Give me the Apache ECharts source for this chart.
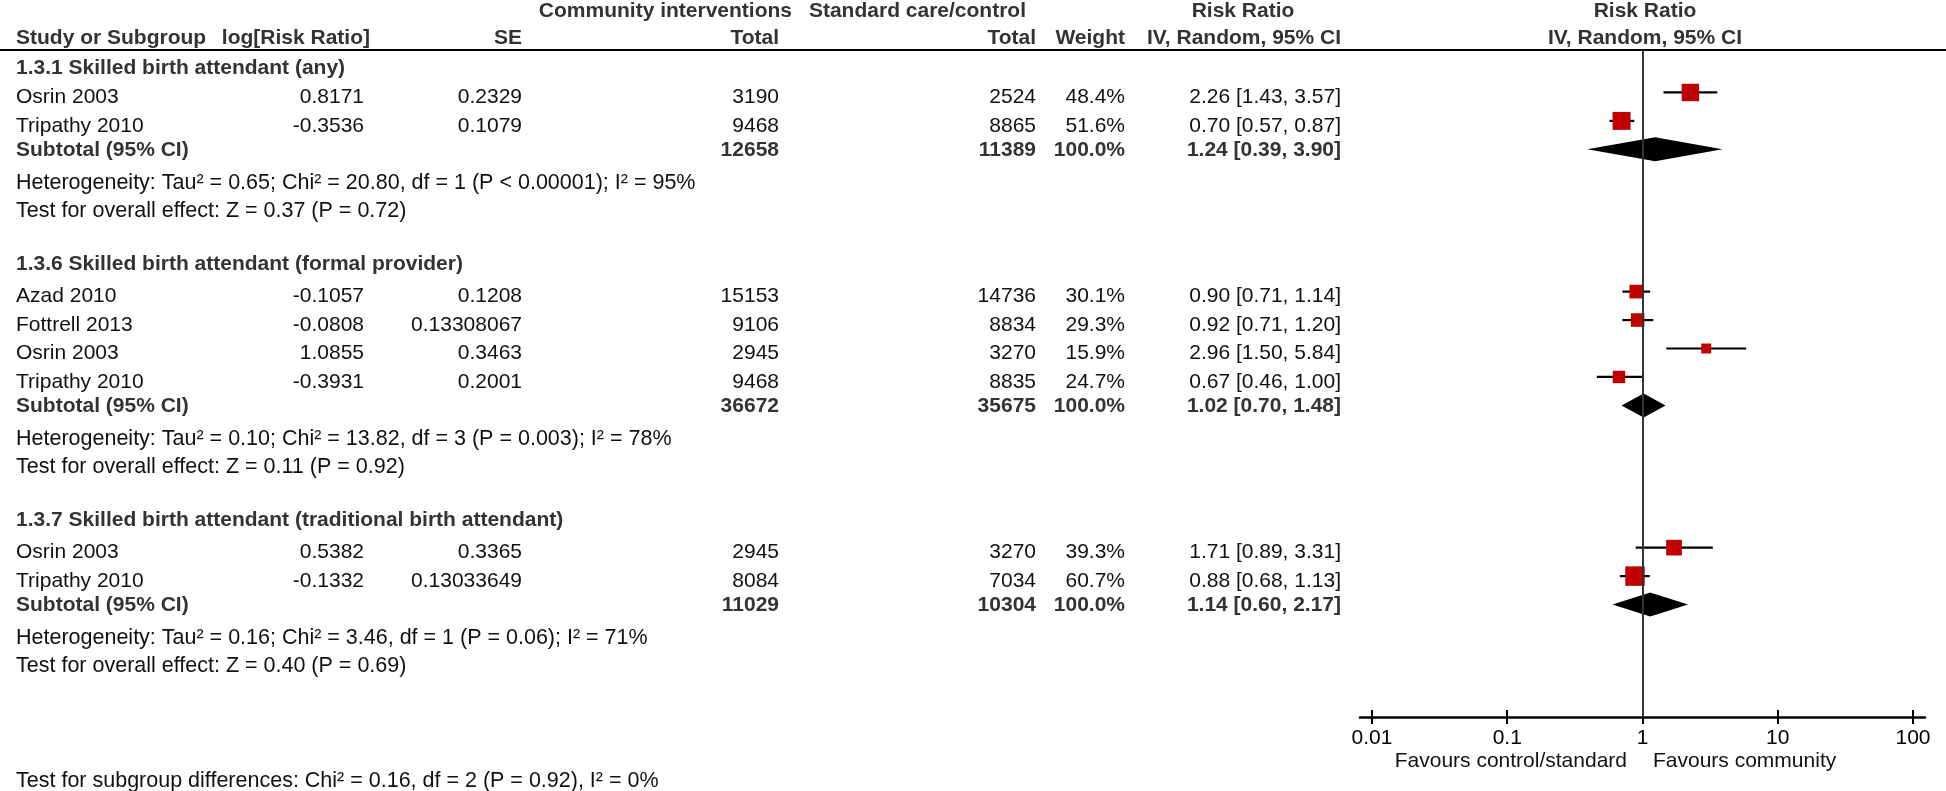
<!DOCTYPE html>
<html><head><meta charset="utf-8">
<script src="https://cdn.jsdelivr.net/npm/echarts@6/dist/echarts.min.js"></script>
<style>html,body{margin:0;padding:0;background:#fff}#chart{width:1946px;height:791px}</style>
</head><body><div id="chart"></div>
<script>
// ---------------- data ----------------
const groupTitles = ['1.3.1 Skilled birth attendant (any)', '1.3.6 Skilled birth attendant (formal provider)', '1.3.7 Skilled birth attendant (traditional birth attendant)'];
const studyGroup = [0, 0, 1, 1, 1, 1, 2, 2];
const studyNames = ['Osrin 2003', 'Tripathy 2010', 'Azad 2010', 'Fottrell 2013', 'Osrin 2003', 'Tripathy 2010', 'Osrin 2003', 'Tripathy 2010'];
const logRiskRatio = ['0.8171', '-0.3536', '-0.1057', '-0.0808', '1.0855', '-0.3931', '0.5382', '-0.1332'];
const standardError = ['0.2329', '0.1079', '0.1208', '0.13308067', '0.3463', '0.2001', '0.3365', '0.13033649'];
const communityTotal = [3190, 9468, 15153, 9106, 2945, 9468, 2945, 8084];
const controlTotal = [2524, 8865, 14736, 8834, 3270, 8835, 3270, 7034];
const weightPct = [48.4, 51.6, 30.1, 29.3, 15.9, 24.7, 39.3, 60.7];
const riskRatio = [2.26, 0.70, 0.90, 0.92, 2.96, 0.67, 1.71, 0.88];
const ciLow = [1.43, 0.57, 0.71, 0.71, 1.50, 0.46, 0.89, 0.68];
const ciHigh = [3.57, 0.87, 1.14, 1.20, 5.84, 1.00, 3.31, 1.13];

const subCommunityTotal = [12658, 36672, 11029];
const subControlTotal = [11389, 35675, 10304];
const subRiskRatio = [1.24, 1.02, 1.14];
const subCiLow = [0.39, 0.70, 0.60];
const subCiHigh = [3.90, 1.48, 2.17];
const heterogeneityText = [
  'Heterogeneity: Tau\u00B2 = 0.65; Chi\u00B2 = 20.80, df = 1 (P < 0.00001); I\u00B2 = 95%',
  'Heterogeneity: Tau\u00B2 = 0.10; Chi\u00B2 = 13.82, df = 3 (P = 0.003); I\u00B2 = 78%',
  'Heterogeneity: Tau\u00B2 = 0.16; Chi\u00B2 = 3.46, df = 1 (P = 0.06); I\u00B2 = 71%'
];
const overallEffectText = [
  'Test for overall effect: Z = 0.37 (P = 0.72)',
  'Test for overall effect: Z = 0.11 (P = 0.92)',
  'Test for overall effect: Z = 0.40 (P = 0.69)'
];
const subgroupDiffText = 'Test for subgroup differences: Chi\u00B2 = 0.16, df = 2 (P = 0.92), I\u00B2 = 0%';
const tickValues = [0.01, 0.1, 1, 10, 100];
const tickLabels = ['0.01', '0.1', '1', '10', '100'];
const favoursLeft = 'Favours control/standard';
const favoursRight = 'Favours community';

// ---------------- layout ----------------
const W = 1946, H = 791;
const ROW0 = 64, ROWH = 28.45;
const GRID_TOP = 50, GRID_BOTTOM = 717;
const yMin = (GRID_TOP - ROW0) / ROWH, yMax = (GRID_BOTTOM - ROW0) / ROWH;
const kOf = px => (px - ROW0) / ROWH;
const PLOT_L = 1360, PLOT_R = 1925;
const XM = 2.0887;
const FONT = '"Liberation Sans", Arial, Helvetica, sans-serif';
const FS = 21, FS_NOTE = 21.5;
const COL = { name: 16, logrr: 364, se: 522, ctot: 779, stot: 1036, wt: 1125, ci: 1341 };
const CLR_N = '#111', CLR_B = '#333';
// vertical text offsets (px) relative to the row centre used by the marks
const DY = { study: 5, sub: 1, head0: 4, head: 1, note: 5 };

const fmt2 = v => v.toFixed(2);
const ciStr = (r, l, h) => fmt2(r) + ' [' + fmt2(l) + ', ' + fmt2(h) + ']';

const texts = [];
function T(x, k, text, align, bold, dy, fs) { texts.push({ x, k, text, align, bold, dy: dy || 0, fs: fs || FS, color: bold ? CLR_B : CLR_N }); }

// headers
const h1 = kOf(11), h2 = kOf(38.5);
T(792, h1, 'Community interventions', 'right', true);
T(1026, h1, 'Standard care/control', 'right', true);
T(1243, h1, 'Risk Ratio', 'center', true);
T(1645, h1, 'Risk Ratio', 'center', true);
T(COL.name, h2, 'Study or Subgroup', 'left', true);
T(370, h2, 'log[Risk Ratio]', 'right', true);
T(COL.se, h2, 'SE', 'right', true);
T(COL.ctot, h2, 'Total', 'right', true);
T(COL.stot, h2, 'Total', 'right', true);
T(COL.wt, h2, 'Weight', 'right', true);
T(COL.ci, h2, 'IV, Random, 95% CI', 'right', true);
T(1645, h2, 'IV, Random, 95% CI', 'center', true);

const studyK = [], subK = [];
let base = 0;
for (let g = 0; g < groupTitles.length; g++) {
  T(COL.name, base, groupTitles[g], 'left', true, g === 0 ? DY.head0 : DY.head);
  let j = 0;
  studyNames.forEach((nm, i) => {
    if (studyGroup[i] !== g) return;
    j++;
    const k = base + j;
    studyK[i] = k;
    T(COL.name, k, nm, 'left', false, DY.study);
    T(COL.logrr, k, logRiskRatio[i], 'right', false, DY.study);
    T(COL.se, k, standardError[i], 'right', false, DY.study);
    T(COL.ctot, k, String(communityTotal[i]), 'right', false, DY.study);
    T(COL.stot, k, String(controlTotal[i]), 'right', false, DY.study);
    T(COL.wt, k, weightPct[i].toFixed(1) + '%', 'right', false, DY.study);
    T(COL.ci, k, ciStr(riskRatio[i], ciLow[i], ciHigh[i]), 'right', false, DY.study);
  });
  const ks = base + j + 1;
  subK[g] = ks;
  T(COL.name, ks, 'Subtotal (95% CI)', 'left', true, DY.sub);
  T(COL.ctot, ks, String(subCommunityTotal[g]), 'right', true, DY.sub);
  T(COL.stot, ks, String(subControlTotal[g]), 'right', true, DY.sub);
  T(COL.wt, ks, '100.0%', 'right', true, DY.sub);
  T(COL.ci, ks, ciStr(subRiskRatio[g], subCiLow[g], subCiHigh[g]), 'right', true, DY.sub);
  T(COL.name, ks + 1, heterogeneityText[g], 'left', false, DY.note, FS_NOTE);
  T(COL.name, ks + 2, overallEffectText[g], 'left', false, DY.note, FS_NOTE);
  base = ks + 4;
}
T(1627, kOf(761), favoursLeft, 'right', false);
T(1653, kOf(761), favoursRight, 'left', false);
T(COL.name, kOf(781), subgroupDiffText, 'left', false, 0, FS_NOTE);

const lg = Math.log10;

const option = {
  animation: false,
  backgroundColor: '#fff',
  grid: [
    { left: 0, top: GRID_TOP, width: W, height: GRID_BOTTOM - GRID_TOP, containLabel: false },
    { left: PLOT_L, top: GRID_TOP, width: PLOT_R - PLOT_L, height: GRID_BOTTOM - GRID_TOP, containLabel: false }
  ],
  xAxis: [
    { gridIndex: 0, type: 'value', min: 0, max: W, position: 'top',
      axisLine: { show: true, onZero: false, lineStyle: { color: '#000', width: 2 } },
      axisTick: { show: false }, axisLabel: { show: false }, splitLine: { show: false } },
    { gridIndex: 1, type: 'value', min: -XM, max: XM, position: 'bottom',
      axisLine: { show: true, onZero: false, lineStyle: { color: '#000', width: 2.5 } },
      axisTick: { show: true, customValues: tickValues.map(lg), length: 7, lineStyle: { color: '#000', width: 2 } },
      axisLabel: { show: true, customValues: tickValues.map(lg), margin: 11, fontSize: FS, fontFamily: FONT, color: '#000',
        formatter: v => tickLabels[tickValues.findIndex(t => Math.abs(lg(t) - v) < 1e-6)] },
      splitLine: { show: false } },
    { gridIndex: 1, type: 'value', min: -XM, max: XM, position: 'bottom',
      axisLine: { show: false, onZero: false },
      axisTick: { show: true, inside: true, customValues: tickValues.map(lg), length: 7, lineStyle: { color: '#000', width: 2 } },
      axisLabel: { show: false }, splitLine: { show: false } }
  ],
  yAxis: [
    { gridIndex: 0, type: 'value', inverse: true, min: yMin, max: yMax, show: false },
    { gridIndex: 1, type: 'value', inverse: true, min: yMin, max: yMax, show: false }
  ],
  series: [
    {
      type: 'custom', xAxisIndex: 0, yAxisIndex: 0, silent: true, clip: false,
      data: texts.map((e, i) => [e.x, e.k, i]),
      renderItem: (params, api) => {
        const e = texts[api.value(2)];
        const p = api.coord([e.x, e.k]);
        return { type: 'text', x: p[0], y: p[1] + e.dy,
          style: { text: e.text, fill: e.color, font: (e.bold ? 'bold ' : '') + e.fs + 'px ' + FONT,
            textAlign: e.align, align: e.align, textVerticalAlign: 'middle', verticalAlign: 'middle' } };
      }
    },
    {
      type: 'scatter', xAxisIndex: 1, yAxisIndex: 1, data: [], silent: true,
      markLine: { silent: true, symbol: 'none', label: { show: false },
        lineStyle: { color: '#333', width: 2, type: 'solid' }, data: [{ xAxis: 0 }] }
    },
    {
      type: 'custom', xAxisIndex: 1, yAxisIndex: 1, silent: true, clip: false,
      data: riskRatio.map((r, i) => [lg(r), studyK[i], lg(ciLow[i]), lg(ciHigh[i]), weightPct[i]]),
      encode: { x: [0, 2, 3], y: 1 },
      renderItem: (params, api) => {
        const c = api.coord([api.value(0), api.value(1)]);
        const a = api.coord([api.value(2), api.value(1)]);
        const b = api.coord([api.value(3), api.value(1)]);
        const s = 2.5 * Math.sqrt(api.value(4));
        return { type: 'group', children: [
          { type: 'line', shape: { x1: a[0], y1: a[1], x2: b[0], y2: b[1] }, style: { stroke: '#000', lineWidth: 2.2 } },
          { type: 'rect', shape: { x: c[0] - s / 2, y: c[1] - s / 2, width: s, height: s }, style: { fill: '#C00000' } }
        ] };
      }
    },
    {
      type: 'custom', xAxisIndex: 1, yAxisIndex: 1, silent: true, clip: false,
      data: subRiskRatio.map((r, g) => [lg(r), subK[g], lg(subCiLow[g]), lg(subCiHigh[g])]),
      encode: { x: [0, 2, 3], y: 1 },
      renderItem: (params, api) => {
        const c = api.coord([api.value(0), api.value(1)]);
        const a = api.coord([api.value(2), api.value(1)]);
        const b = api.coord([api.value(3), api.value(1)]);
        const hh = 12;
        return { type: 'polygon', shape: { points: [[a[0], c[1]], [c[0], c[1] - hh], [b[0], c[1]], [c[0], c[1] + hh]] },
          style: { fill: '#000' } };
      }
    }
  ]
};
const chart = echarts.init(document.getElementById('chart'), null, { renderer: 'canvas', width: W, height: H });
chart.setOption(option);
</script>
</body></html>
